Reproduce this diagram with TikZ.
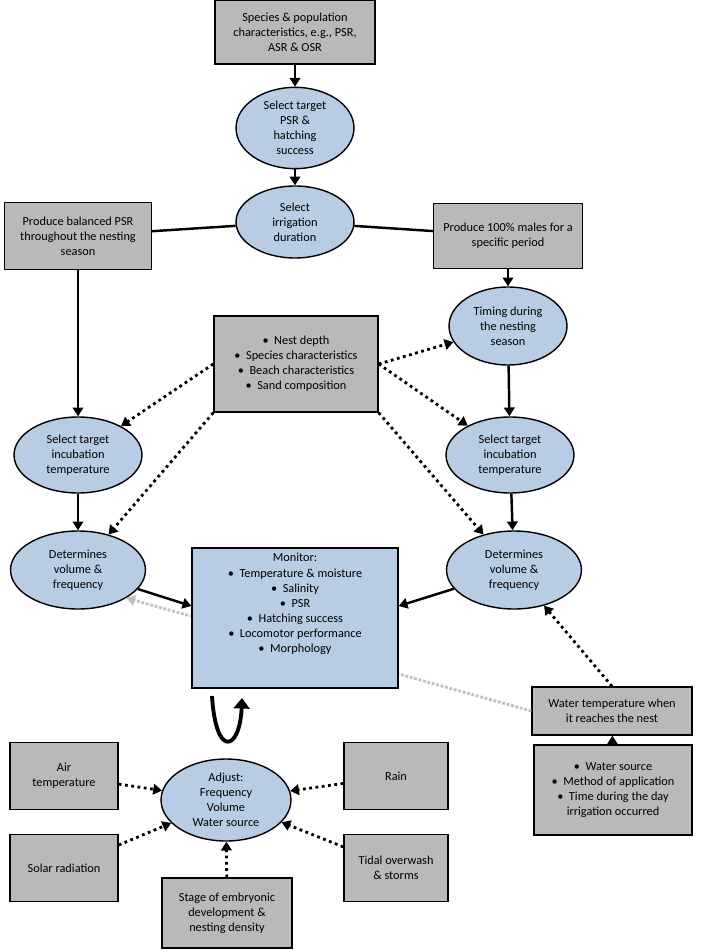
\documentclass[tikz,border=0pt]{standalone}
\usepackage{fontspec}
\setmainfont{Carlito}
\usetikzlibrary{arrows.meta,shapes.geometric}
\definecolor{blueish}{RGB}{184,204,228}
\tikzset{
  box/.style={draw,thick,fill=gray!55,align=center,font=\fontsize{7}{8.6}\selectfont,inner sep=2pt},
  oval/.style={draw,thick,ellipse,fill=blueish,align=center,font=\fontsize{7}{8.6}\selectfont,inner sep=1pt},
  solid arrow/.style={line width=1.4pt,-{Triangle[length=5pt,width=6pt]}},
  dot arrow/.style={line width=1.6pt,dotted,-{Triangle[length=5pt,width=6pt]}},
  grey arrow/.style={line width=1.6pt,densely dotted,gray!50,-{Triangle[length=5pt,width=6pt]}},
}
\begin{document}
\begin{tikzpicture}[x=0.02cm,y=-0.02cm]
\useasboundingbox (0,0) rectangle (700,952);

\node (A) at (295,32) [box,minimum width=3.2cm,minimum height=1.28cm] {Species \& population\\characteristics, e.g., PSR,\\ASR \& OSR};
\node (B) at (295,128) [oval,minimum width=2.36cm,minimum height=1.52cm] {Select target\\PSR \&\\hatching\\success};
\node (C) at (295,222) [oval,minimum width=2.36cm,minimum height=1.44cm] {Select\\irrigation\\duration};
\node (D1) at (78,236) [box,minimum width=2.94cm,minimum height=1.34cm] {Produce balanced PSR\\throughout the nesting\\season};
\node (D2) at (508,236) [box,minimum width=2.98cm,minimum height=1.3cm] {Produce 100\% males for a\\specific period};
\node (E) at (508,326) [oval,minimum width=2.36cm,minimum height=1.56cm] {Timing during\\the nesting\\season};
\node (F) at (296,364) [box,minimum width=3.28cm,minimum height=1.92cm] {\textbullet\ \ Nest depth\\\textbullet\ \ Species characteristics\\\textbullet\ \ Beach characteristics\\\textbullet\ \ Sand composition};
\node (G1) at (78,455) [oval,minimum width=2.56cm,minimum height=1.52cm] {Select target\\incubation\\temperature};
\node (G2) at (510,455) [oval,minimum width=2.56cm,minimum height=1.52cm] {Select target\\incubation\\temperature};
\node (H1) at (78,570) [oval,minimum width=2.7cm,minimum height=1.56cm] {Determines\\volume \&\\frequency};
\node (H2) at (514,570) [oval,minimum width=2.7cm,minimum height=1.56cm] {Determines\\volume \&\\frequency};
\node (W1) at (612,711) [box,minimum width=3.2cm,minimum height=0.96cm] {Water temperature when\\it reaches the nest};
\node (W2) at (613,790) [box,minimum width=3.16cm,minimum height=1.8cm] {\textbullet\ \ Water source\\\textbullet\ \ Method of application\\\textbullet\ \ Time during the day\\irrigation occurred};

\draw [grey arrow] (W1.west) -- (H1.south east);
\node (M) at (295,618) [box,fill=blueish,minimum width=4.12cm,minimum height=2.8cm] {Monitor:\\\textbullet\ \ Temperature \& moisture\\\textbullet\ \ Salinity\\\textbullet\ \ PSR\\\textbullet\ \ Hatching success\\\textbullet\ \ Locomotor performance\\\textbullet\ \ Morphology\\[1.2em]};

\node (J) at (226,800) [oval,minimum width=2.6cm,minimum height=1.64cm] {Adjust:\\Frequency\\Volume\\Water source};
\node (K1) at (64,776) [box,minimum width=2.16cm,minimum height=1.34cm] {Air\\temperature};
\node (K2) at (396,776) [box,minimum width=2.08cm,minimum height=1.34cm] {Rain};
\node (K3) at (64,868) [box,minimum width=2.16cm,minimum height=1.34cm] {Solar radiation};
\node (K4) at (396,868) [box,minimum width=2.08cm,minimum height=1.34cm] {Tidal overwash\\\& storms};
\node (K5) at (227,913) [box,minimum width=2.6cm,minimum height=1.4cm] {Stage of embryonic\\development \&\\nesting density};

\draw [solid arrow] (A) -- (B);
\draw [solid arrow] (B) -- (C);
\draw [line width=1.4pt] (C) -- (D1);
\draw [line width=1.4pt] (C) -- (D2);
\draw [solid arrow] (D1) -- (G1);
\draw [solid arrow] (D2) -- (E);
\draw [solid arrow] (E) -- (G2);
\draw [solid arrow] (G1) -- (H1);
\draw [solid arrow] (G2) -- (H2);
\draw [solid arrow] (H1) -- (M.west |- 0,606);
\draw [solid arrow] (H2) -- (M.east |- 0,606);

\draw [dot arrow] (F.west) -- (G1);
\draw [dot arrow] (F.south west) -- (H1);
\draw [dot arrow] (F.east) -- (E);
\draw [dot arrow] (F.east) -- (G2);
\draw [dot arrow] (F.south east) -- (H2);
\draw [dot arrow] (W1.north) -- (H2);
\draw [dot arrow] (W2) -- (W1);

\draw [dot arrow] (K1) -- (J);
\draw [dot arrow] (K2) -- (J);
\draw [dot arrow] (K3) -- (J);
\draw [dot arrow] (K4) -- (J);
\draw [dot arrow] (K5) -- (J);

\coordinate (U1) at (212,696);
\coordinate (U2) at (242,698);
\draw [line width=2.2pt,-{Triangle[length=6pt,width=9pt]}] (U1) .. controls (216,760) and (240,750) .. (U2);
\end{tikzpicture}
\end{document}
